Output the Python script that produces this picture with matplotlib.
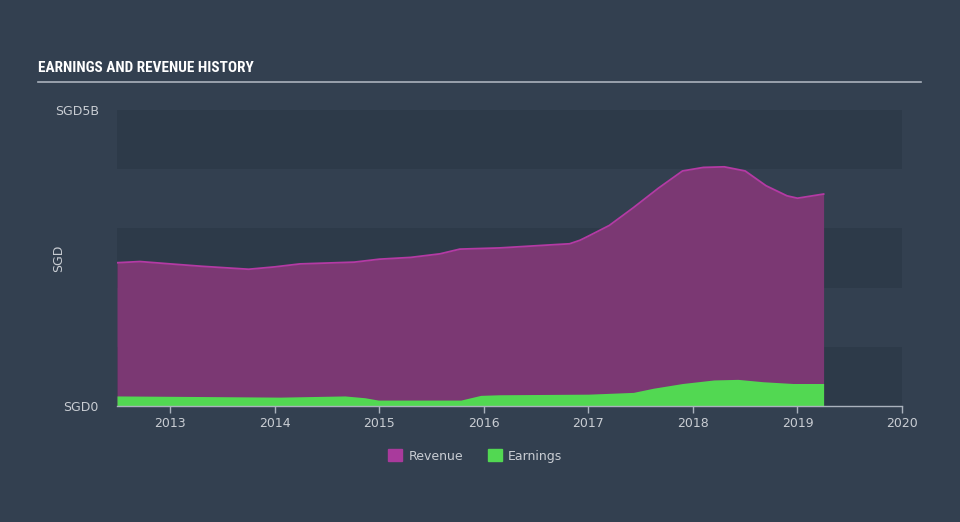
import matplotlib.pyplot as plt
from matplotlib.patches import Patch
from matplotlib import font_manager

# decimal years and values in SGD billions
rev_years = [2012.49, 2012.71, 2013.0, 2013.3, 2013.75, 2014.0, 2014.24, 2014.76,
             2015.0, 2015.3, 2015.58, 2015.77, 2016.15, 2016.72, 2016.82, 2016.92,
             2017.0, 2017.2, 2017.43, 2017.67, 2017.9, 2018.1, 2018.3, 2018.5,
             2018.7, 2018.9, 2019.0, 2019.25]
revenue = [2.42, 2.44, 2.40, 2.36, 2.31, 2.35, 2.40, 2.43,
           2.48, 2.51, 2.57, 2.65, 2.67, 2.73, 2.74, 2.80,
           2.87, 3.05, 3.35, 3.68, 3.97, 4.03, 4.04, 3.97,
           3.72, 3.55, 3.51, 3.58]

earn_years = [2012.49, 2013.3, 2014.05, 2014.67, 2014.86, 2014.99, 2015.78, 2015.97,
              2016.15, 2017.0, 2017.43, 2017.62, 2017.9, 2018.2, 2018.43, 2018.67,
              2018.96, 2019.25]
earnings = [0.17, 0.16, 0.15, 0.17, 0.14, 0.10, 0.10, 0.18,
            0.19, 0.20, 0.23, 0.30, 0.38, 0.44, 0.45, 0.41,
            0.38, 0.38]

year_ticks = [2013, 2014, 2015, 2016, 2017, 2018, 2019, 2020]

BG = "#334050"
BAND = "#2d3a49"
TEXT = "#c9cdd3"
REV_FILL = "#7b3873"
REV_LINE = "#b43aa4"
EARN_FILL = "#52d852"

# pick a condensed bold face for the title if one is installed
title_family = "DejaVu Sans"
names = {f.name for f in font_manager.fontManager.ttflist}
for cand in ("Liberation Sans Narrow", "DejaVu Sans Condensed", "Roboto Condensed"):
    if cand in names:
        title_family = cand
        break

fig = plt.figure(figsize=(9.6, 5.22), dpi=100, facecolor=BG)
ax = fig.add_axes([117 / 960, 1 - 406 / 522, 785 / 960, 296 / 522])
ax.set_facecolor(BG)

# alternating horizontal bands
for lo in (0, 2, 4):
    ax.axhspan(lo, lo + 1, color=BAND, zorder=0, lw=0)

ax.fill_between(rev_years, 0, revenue, color=REV_FILL, lw=0, zorder=2)
ax.plot(rev_years, revenue, color=REV_LINE, lw=1.3, zorder=3)
ax.fill_between(earn_years, 0, earnings, color=EARN_FILL, lw=0, zorder=4)

ax.set_xlim(2012.49, 2020.0)
ax.set_ylim(0, 5)
ax.set_xticks(year_ticks)
ax.set_xticklabels([str(y) for y in year_ticks])
ax.set_yticks([0, 5])
ax.set_yticklabels(["SGD0", "SGD5B"])
ax.tick_params(axis="x", colors="#aab2bd", labelcolor=TEXT, length=5, width=1,
               labelsize=9, pad=3)
ax.tick_params(axis="y", length=0, labelcolor=TEXT, labelsize=9, pad=13)
for side in ("top", "right", "left"):
    ax.spines[side].set_visible(False)
ax.spines["bottom"].set_color("#aab2bd")
ax.spines["bottom"].set_linewidth(1)
ax.spines["bottom"].set_zorder(5)
ax.set_ylabel("SGD", color=TEXT, fontsize=9)
ax.yaxis.set_label_coords(-0.066, 0.5)

fig.text(38 / 960, 1 - 68 / 522, "EARNINGS AND REVENUE HISTORY", color="white",
         fontsize=11, fontweight="bold", va="center", ha="left",
         family=title_family, fontstretch="condensed")
fig.add_artist(plt.Line2D([38 / 960, 921 / 960], [1 - 82 / 522, 1 - 82 / 522],
                          color="#aab2bd", lw=1.2))

handles = [Patch(color="#a93a9c", label="Revenue"),
           Patch(color=EARN_FILL, label="Earnings")]
fig.legend(handles=handles, loc="center", bbox_to_anchor=(0.495, 1 - 456 / 522),
           ncol=2, frameon=False, labelcolor=TEXT, fontsize=9,
           handlelength=1.1, handleheight=1.1, columnspacing=2.0, handletextpad=0.5)

fig.savefig("out.png", dpi=100, facecolor=BG)
